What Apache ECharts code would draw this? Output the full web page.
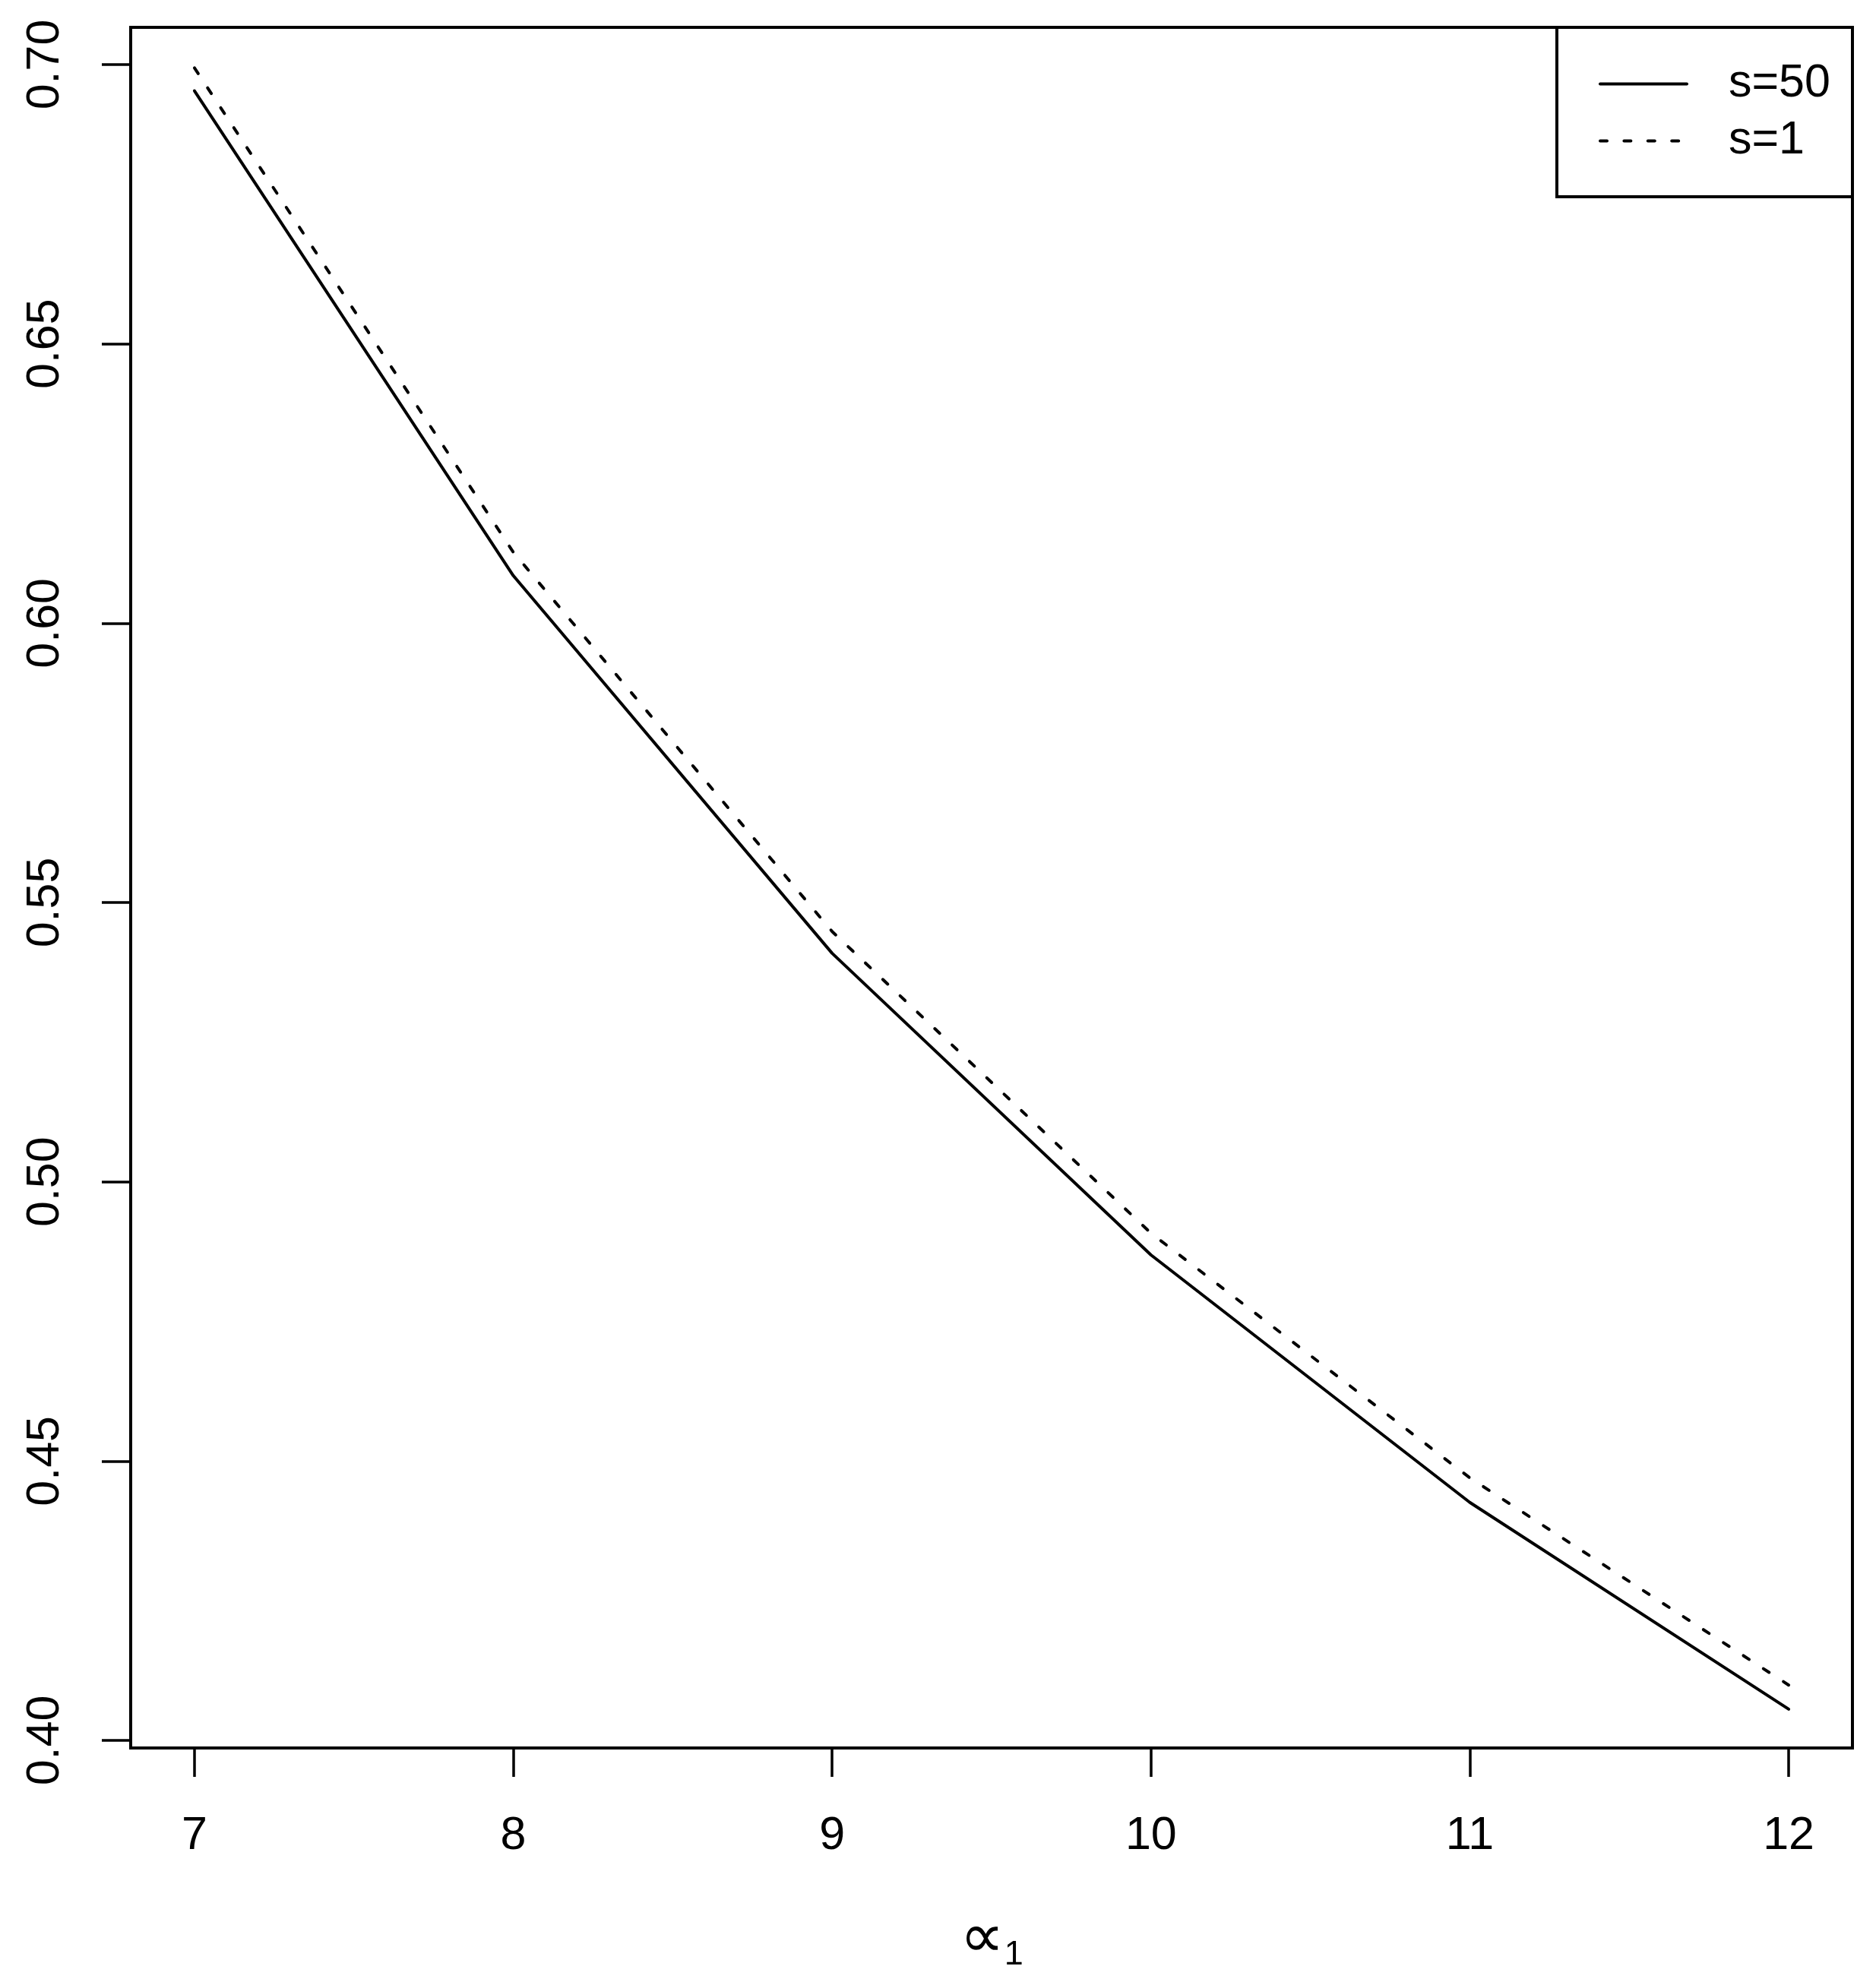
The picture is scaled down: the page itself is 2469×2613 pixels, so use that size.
<!DOCTYPE html>
<html>
<head>
<meta charset="utf-8">
<script src="https://cdn.jsdelivr.net/npm/echarts@6/dist/echarts.min.js"></script>
<style>
html,body{margin:0;padding:0;background:#fff;}
#chart{width:2469px;height:2613px;}
</style>
</head>
<body>
<div id="chart"></div>
<script>
// Data
var alphaValues = [7, 8, 9, 10, 11, 12];
var s50Values = [0.6953, 0.6085, 0.5409, 0.4869, 0.4426, 0.4056];
var s1Values  = [0.6994, 0.6127, 0.5448, 0.4908, 0.4470, 0.4099];
var xTicks = [7, 8, 9, 10, 11, 12];
var yTicks = [0.40, 0.45, 0.50, 0.55, 0.60, 0.65, 0.70];
var seriesNames = ['s=50', 's=1'];

function pairs(xs, ys) { return xs.map(function (x, i) { return [x, ys[i]]; }); }

var FONT = 'Liberation Sans, Arial, Helvetica, sans-serif';
var DASH = [9, 22.4];
var chart = echarts.init(document.getElementById('chart'), null, {renderer: 'canvas'});

chart.setOption({
  animation: false,
  backgroundColor: '#ffffff',
  grid: {
    left: 172, right: 31, top: 36, bottom: 312,
    show: true, borderColor: '#000', borderWidth: 4, backgroundColor: 'transparent'
  },
  xAxis: {
    type: 'value', min: 6.8, max: 12.2,
    splitLine: {show: false},
    axisLine: {show: false},
    axisTick: {show: true, inside: false, length: 38, customValues: xTicks,
      lineStyle: {color: '#000', width: 3.5}},
    axisLabel: {show: true, customValues: xTicks, margin: 116,
      fontFamily: FONT, fontSize: 61, color: '#000',
      align: 'center', verticalAlign: 'middle',
      formatter: function (v) { return String(v); }},
    name: '{p|\u221D}{s|1}',
    nameLocation: 'middle',
    nameGap: 213,
    nameTextStyle: {
      verticalAlign: 'top', align: 'center',
      rich: {
        p: {fontFamily: 'DejaVu Sans', fontSize: 82, color: '#000', lineHeight: 82, verticalAlign: 'middle'},
        s: {fontFamily: FONT, fontSize: 45, color: '#000', lineHeight: 30, verticalAlign: 'bottom'}
      }
    }
  },
  yAxis: {
    type: 'value', min: 0.39864, max: 0.70666,
    splitLine: {show: false},
    axisLine: {show: false},
    axisTick: {show: true, inside: false, length: 38, customValues: yTicks,
      lineStyle: {color: '#000', width: 3.5}},
    axisLabel: {show: true, customValues: yTicks, margin: 111.5, rotate: 90,
      fontFamily: FONT, fontSize: 61, color: '#000',
      align: 'center', verticalAlign: 'middle',
      formatter: function (v) { return v.toFixed(2); }}
  },
  legend: {
    data: [
      {name: seriesNames[0], itemStyle: {opacity: 0}, lineStyle: {width: 4, type: 'solid', color: '#000', cap: 'round'}},
      {name: seriesNames[1], itemStyle: {opacity: 0}, lineStyle: {width: 4, type: DASH, color: '#000', cap: 'round'}}
    ],
    orient: 'vertical',
    left: 2104, top: 80,
    padding: 0,
    itemWidth: 114, itemHeight: 61, itemGap: 14,
    textStyle: {fontFamily: FONT, fontSize: 61, color: '#000', lineHeight: 61, padding: [0, 0, 0, 50]},
    selectedMode: false
  },
  graphic: [{
    type: 'rect', silent: true, z: 100,
    shape: {x: 2049, y: 36, width: 389, height: 223},
    style: {fill: 'none', stroke: '#000', lineWidth: 4}
  }],
  series: [
    {
      name: seriesNames[0], type: 'line', data: pairs(alphaValues, s50Values),
      symbol: 'none', showSymbol: false,
      lineStyle: {color: '#000', width: 4, type: 'solid', cap: 'round', join: 'round'},
      itemStyle: {color: '#000'}
    },
    {
      name: seriesNames[1], type: 'line', data: pairs(alphaValues, s1Values),
      symbol: 'none', showSymbol: false,
      lineStyle: {color: '#000', width: 4, type: DASH, cap: 'round', join: 'round'},
      itemStyle: {color: '#000'}
    }
  ]
});
</script>
</body>
</html>
